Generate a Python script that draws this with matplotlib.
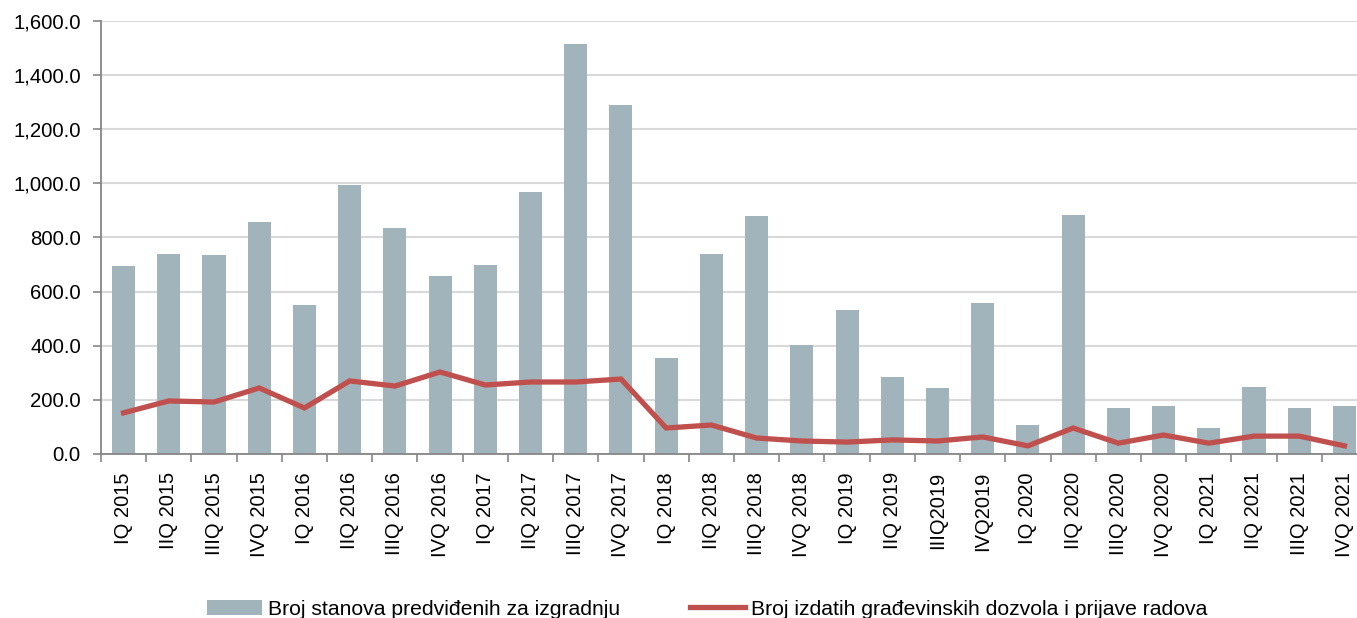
import matplotlib
matplotlib.use("Agg")
import matplotlib.pyplot as plt
from matplotlib.ticker import FuncFormatter

plt.rcParams['font.family'] = ['Liberation Sans', 'DejaVu Sans']

quarters = ['IQ 2015', 'IIQ 2015', 'IIIQ 2015', 'IVQ 2015',
            'IQ 2016', 'IIQ 2016', 'IIIQ 2016', 'IVQ 2016',
            'IQ 2017', 'IIQ 2017', 'IIIQ 2017', 'IVQ 2017',
            'IQ 2018', 'IIQ 2018', 'IIIQ 2018', 'IVQ 2018',
            'IQ 2019', 'IIQ 2019', 'IIIQ2019', 'IVQ2019',
            'IQ 2020', 'IIQ 2020', 'IIIQ 2020', 'IVQ 2020',
            'IQ 2021', 'IIQ 2021', 'IIIQ 2021', 'IVQ 2021']

stanovi = [695, 739, 735, 857, 550, 994, 835, 658, 698, 968, 1515, 1290,
           353, 739, 879, 403, 532, 285, 244, 558, 107, 883, 170, 177,
           96, 248, 170, 177]

dozvole = [152, 196, 192, 244, 170, 270, 251, 303, 255, 266, 266, 277,
           96, 107, 59, 48, 44, 52, 48, 63, 30, 96, 40, 70,
           40, 66, 66, 30]

bar_color = '#a2b4bb'
line_color = '#c0504d'

fig = plt.figure(figsize=(13.57, 6.18), dpi=100)
ax = fig.add_axes([0.0744, 0.2654, 0.933, 0.7006])

x = range(len(quarters))
bars = ax.bar(x, stanovi, width=0.51, color=bar_color, zorder=2,
              label='Broj stanova predviđenih za izgradnju')
line, = ax.plot(x, dozvole, color=line_color, linewidth=3.8, zorder=3,
                solid_joinstyle='miter',
                label='Broj izdatih građevinskih dozvola i prijave radova')

ax.set_ylim(0, 1600)
ax.set_yticks(range(0, 1601, 200))
ax.yaxis.set_major_formatter(FuncFormatter(lambda v, p: '{:,.1f}'.format(v)))
ax.set_xlim(-0.5, len(quarters) - 0.5)
ax.set_xticks(x)
ax.set_xticklabels(quarters, rotation=90)
ax.set_xticks([i - 0.5 for i in range(len(quarters) + 1)], minor=True)
ax.tick_params(axis='x', which='major', length=0, pad=13, labelsize=14.5)
ax.tick_params(axis='x', which='minor', length=5.8, color='#868686', width=1.2)
ax.tick_params(axis='y', length=5.5, color='#868686', width=1.2, labelsize=14.7, pad=9)

ax.grid(axis='y', color='#d9d9d9', linewidth=1.5, zorder=0)
ax.set_axisbelow(True)
for s in ['top', 'right']:
    ax.spines[s].set_visible(False)
for s in ['left', 'bottom']:
    ax.spines[s].set_color('#868686')
    ax.spines[s].set_linewidth(1.3)

fig.legend([bars, line], [bars.get_label(), line.get_label()],
           loc='center', bbox_to_anchor=(0.5214, 0.014), ncol=2, frameon=False,
           fontsize=15.2, columnspacing=3.3, handlelength=2.6, handletextpad=0.3)

fig.savefig('out.png', dpi=100)
